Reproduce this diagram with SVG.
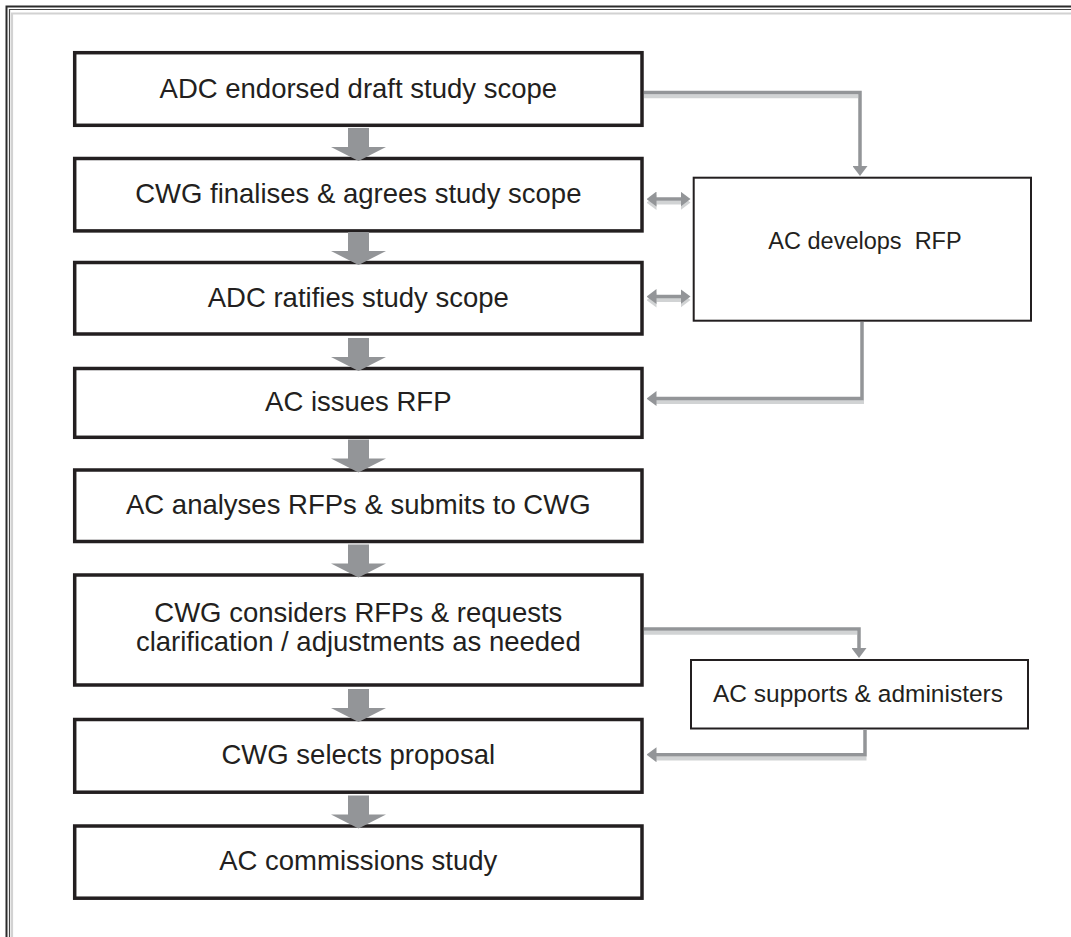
<svg xmlns="http://www.w3.org/2000/svg" width="1071" height="937" viewBox="0 0 1071 937">
<style>
.box{fill:#fff;stroke:#231f20;stroke-width:3.5}
.sbox{fill:#fff;stroke:#231f20;stroke-width:2}
.t{font-family:"Liberation Sans",Arial,sans-serif;font-size:27.5px;fill:#231f20;text-anchor:middle}
.ts{font-family:"Liberation Sans",Arial,sans-serif;fill:#231f20;text-anchor:middle}
.c{fill:none;stroke:#939598;stroke-width:3.5}
.cs{fill:none;stroke:#d1d3d4;stroke-width:4}
.big{fill:#939598}
</style>
<defs>
<marker id="ah" viewBox="0 0 10 15" refX="0.5" refY="7.5" markerWidth="10" markerHeight="15" markerUnits="userSpaceOnUse" orient="auto-start-reverse"><path d="M0 0 L10 7.5 L0 15 Z" fill="#939598"/></marker>
<marker id="ahs" viewBox="0 0 10 15" refX="0.5" refY="7.5" markerWidth="10" markerHeight="15" markerUnits="userSpaceOnUse" orient="auto-start-reverse"><path d="M0 0 L10 7.5 L0 15 Z" fill="#d1d3d4"/></marker>
<path id="bigarrow" d="M348 -29 H369 V-10 H386 L358.5 4 L331 -10 H348 Z"/>
</defs>
<rect width="1071" height="937" fill="#fff"/>
<g id="page-border" fill="none">
<path d="M6.5 937 V6.5 H1071" stroke="#2b2b2b" stroke-width="2"/>
<path d="M9.5 937 V9.5 H1071" stroke="#444" stroke-width="1.2"/>
<path d="M12 937 V13.5 H1071" stroke="#d2d2d2" stroke-width="2.2"/>
</g>
<g id="n1"><rect class="box" x="74.7" y="52.7" width="567.3" height="72.6"/><text class="t" x="358.3" y="97.5">ADC endorsed draft study scope</text></g>
<g id="n2"><rect class="box" x="74.7" y="158.5" width="567.3" height="72.4"/><text class="t" x="358.3" y="203">CWG finalises &amp; agrees study scope</text></g>
<g id="n3"><rect class="box" x="74.7" y="262.5" width="567.3" height="71.5"/><text class="t" x="358.3" y="306.5">ADC ratifies study scope</text></g>
<g id="n4"><rect class="box" x="74.7" y="368.5" width="567.3" height="68.8"/><text class="t" x="358.3" y="411">AC issues RFP</text></g>
<g id="n5"><rect class="box" x="74.7" y="470" width="567.3" height="71.5"/><text class="t" x="358.3" y="514">AC analyses RFPs &amp; submits to CWG</text></g>
<g id="n6"><rect class="box" x="74.7" y="575" width="567.3" height="110"/><text class="t" x="358.3" y="622">CWG considers RFPs &amp; requests</text><text class="t" x="358.3" y="651">clarification / adjustments as needed</text></g>
<g id="n7"><rect class="box" x="74.7" y="719.5" width="567.3" height="72.7"/><text class="t" x="358.3" y="764">CWG selects proposal</text></g>
<g id="n8"><rect class="box" x="74.7" y="826" width="567.3" height="72.2"/><text class="t" x="358.3" y="870">AC commissions study</text></g>
<g id="n9"><rect class="sbox" x="693.7" y="177.7" width="337.3" height="143"/><text class="ts" x="865" y="248.5" font-size="23.5" xml:space="preserve">AC develops  RFP</text></g>
<g id="n10"><rect class="sbox" x="691" y="660" width="337" height="68.5"/><text class="ts" x="858" y="701.8" font-size="24.5">AC supports &amp; administers</text></g>
<g id="connectors">
<use href="#bigarrow" class="big" transform="translate(0,157)"/>
<use href="#bigarrow" class="big" transform="translate(0,261)"/>
<use href="#bigarrow" class="big" transform="translate(0,367)"/>
<use href="#bigarrow" class="big" transform="translate(0,468.5)"/>
<use href="#bigarrow" class="big" transform="translate(0,573.5)"/>
<use href="#bigarrow" class="big" transform="translate(0,718)"/>
<use href="#bigarrow" class="big" transform="translate(0,824.5)"/>
<path class="cs" d="M644 96.2 H858"/>
<path class="c" d="M644 92.5 H860 V166.5" marker-end="url(#ah)"/>
<path class="cs" d="M656 202.5 H681" marker-start="url(#ahs)" marker-end="url(#ahs)"/>
<path class="c" d="M656 199 H681" marker-start="url(#ah)" marker-end="url(#ah)"/>
<path class="cs" d="M656 300 H681" marker-start="url(#ahs)" marker-end="url(#ahs)"/>
<path class="c" d="M656 296.5 H681" marker-start="url(#ah)" marker-end="url(#ah)"/>
<path class="cs" d="M656 402 H864"/>
<path class="c" d="M862 322 V398.5 H656" marker-end="url(#ah)"/>
<path class="cs" d="M644 632.8 H857"/>
<path class="c" d="M644 629 H859 V648.5" marker-end="url(#ah)"/>
<path class="cs" d="M656 758.5 H866.5"/>
<path class="c" d="M865 729.5 V754.7 H656" marker-end="url(#ah)"/>
</g>
</svg>
